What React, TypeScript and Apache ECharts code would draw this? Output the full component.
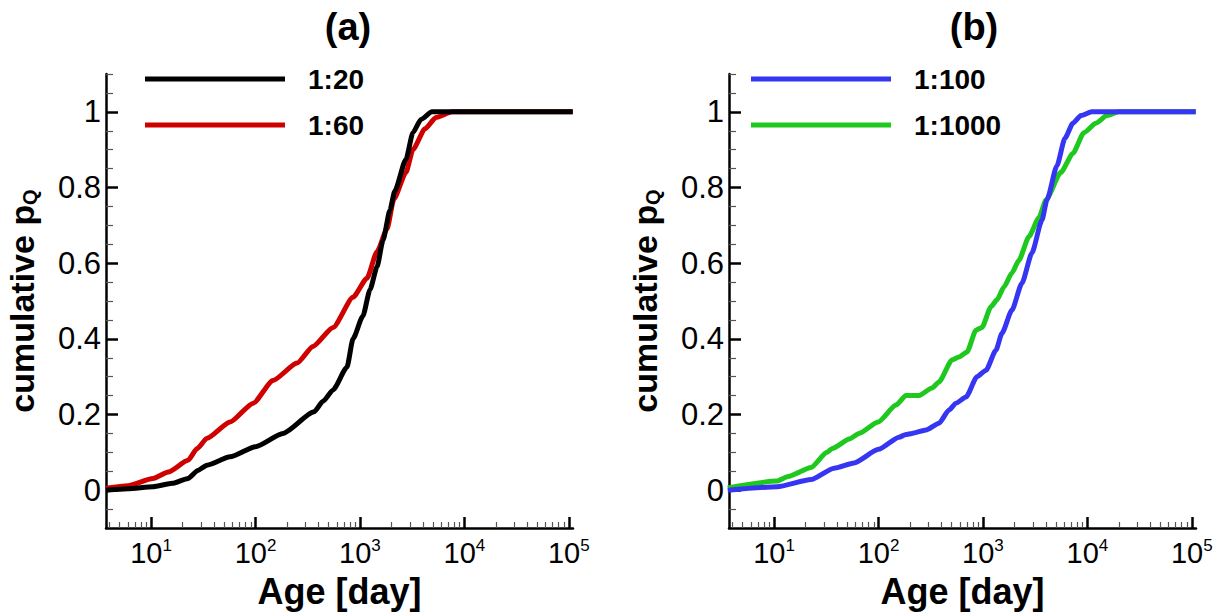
import React, { useEffect, useRef } from "react";
import * as echarts from "echarts";

// ---- data (ages in days, cumulative p_Q) ----
const ages20 = [3.7, 6, 10.4, 16, 22.6, 28, 34.3, 57, 100, 183, 363, 443, 553, 751, 858, 1066, 1247, 1456, 1661, 1935, 2150, 2760, 3213, 3837, 4890, 109000];
const p20 = [0.0, 0.004, 0.009, 0.018, 0.031, 0.052, 0.066, 0.088, 0.115, 0.15, 0.207, 0.235, 0.265, 0.325, 0.4, 0.46, 0.53, 0.59, 0.66, 0.74, 0.79, 0.875, 0.945, 0.98, 1.0, 1.0];

const ages60 = [3.7, 6, 10.4, 14.6, 22.6, 27.6, 34.3, 57, 95, 147, 250, 355, 553, 858, 1167, 1456, 1813, 2115, 2760, 3213, 4190, 5335, 7590, 109000];
const p60 = [0.005, 0.012, 0.031, 0.048, 0.079, 0.11, 0.137, 0.18, 0.23, 0.29, 0.336, 0.38, 0.43, 0.51, 0.56, 0.63, 0.69, 0.77, 0.84, 0.9, 0.955, 0.985, 1.0, 1.0];

const ages100 = [3.6, 10.7, 22.6, 37.5, 58.3, 100, 157, 183, 209, 285, 379, 473, 552, 687, 877, 1069, 1332, 1521, 1895, 2360, 2943, 3673, 4096, 5100, 6090, 7260, 8660, 11000, 109000];
const p100 = [0.0, 0.009, 0.028, 0.058, 0.072, 0.108, 0.14, 0.147, 0.15, 0.159, 0.177, 0.212, 0.23, 0.246, 0.3, 0.317, 0.37, 0.415, 0.476, 0.547, 0.627, 0.714, 0.767, 0.857, 0.93, 0.97, 0.99, 1.0, 1.0];

const ages1000 = [3.6, 10.7, 13.6, 22.6, 32.1, 36, 53.3, 65, 99, 147, 183, 244, 325, 379, 505, 589, 703, 857, 977, 1194, 1361, 1587, 1895, 2210, 2754, 3434, 4010, 5570, 7260, 9260, 12060, 15370, 19960, 109000];
const p1000 = [0.006, 0.024, 0.036, 0.06, 0.1, 0.11, 0.136, 0.15, 0.18, 0.225, 0.25, 0.25, 0.27, 0.286, 0.344, 0.352, 0.365, 0.423, 0.43, 0.485, 0.503, 0.537, 0.574, 0.608, 0.67, 0.72, 0.767, 0.84, 0.89, 0.945, 0.97, 0.99, 1.0, 1.0];

const panelTitles = ["(a)", "(b)"];
const namesA = ["1:20", "1:60"];
const namesB = ["1:100", "1:1000"];
const xMajorExponents = [1, 2, 3, 4, 5];
const yMajorTicks = [0, 0.2, 0.4, 0.6, 0.8, 1];
const X_MIN_AGE = 3.7;
const X_MAX_AGE = 109600;
const Y_MIN = -0.1;
const Y_MAX = 1.1;

const BLACK = "#000000";
const RED = "#cf0000";
const BLUE = "#3535f2";
const GREEN = "#1ec81e";
const FONT = "'Liberation Sans', Arial, Helvetica, sans-serif";

const toPts = (ages: number[], ps: number[]) => ages.map((a, i) => [Math.log10(a), ps[i]]);

export default function App() {
  const ref = useRef<HTMLDivElement>(null);
  useEffect(() => {
    document.body.style.margin = "0";
    const chart = echarts.init(ref.current!, undefined, { renderer: "svg" });
    const xmin = Math.log10(X_MIN_AGE);
    const xmax = Math.log10(X_MAX_AGE);
    const xMinor: number[] = [];
    for (let e = 0; e <= 4; e++) {
      for (let m = 2; m <= 9; m++) {
        const v = Math.log10(m * Math.pow(10, e));
        if (v >= xmin && v <= xmax) xMinor.push(v);
      }
    }
    const yMinor: number[] = [];
    for (let k = -1; k <= 22; k++) {
      const v = Math.round(k * 5) / 100;
      if (k % 4 === 0 && v >= 0 && v <= 1) continue;
      yMinor.push(v);
    }
    const grids = [
      { left: 106, top: 74, width: 467, height: 454, outerBoundsMode: "none", containLabel: false },
      { left: 729, top: 74, width: 467, height: 454, outerBoundsMode: "none", containLabel: false },
    ];
    const xAxes: any[] = [];
    const yAxes: any[] = [];
    const tickAxisX = (gi: number, values: number[], len: number, width: number, color: string) => ({
      type: "value", gridIndex: gi, min: xmin, max: xmax, position: "bottom",
      axisLine: { show: false, onZero: false },
      axisTick: { show: true, inside: true, length: len, customValues: values, lineStyle: { color, width } },
      axisLabel: { show: false }, splitLine: { show: false },
    });
    const tickAxisY = (gi: number, values: number[], len: number, width: number, color: string) => ({
      type: "value", gridIndex: gi, min: Y_MIN, max: Y_MAX, position: "left",
      axisLine: { show: false, onZero: false },
      axisTick: { show: true, inside: true, length: len, customValues: values, lineStyle: { color, width } },
      axisLabel: { show: false }, splitLine: { show: false },
    });
    grids.forEach((_, gi) => {
      xAxes.push({
        type: "value", gridIndex: gi, min: xmin, max: xmax, position: "bottom",
        axisLine: { show: true, onZero: false, lineStyle: { color: BLACK, width: 2.5 } },
        axisTick: { show: false },
        axisLabel: {
          customValues: xMajorExponents, margin: 9, color: BLACK, fontSize: 29, fontFamily: FONT, lineHeight: 32,
          formatter: (v: number) => "10{sup|" + Math.round(v) + "}",
          rich: { sup: { fontSize: 17, fontFamily: FONT, color: BLACK, verticalAlign: "top", lineHeight: 17 } },
        },
        splitLine: { show: false },
        name: "Age [day]", nameLocation: "middle", nameGap: 40,
        nameTextStyle: { fontSize: 36, fontWeight: "bold", color: BLACK, fontFamily: FONT },
      });
      xAxes.push(tickAxisX(gi, xMajorExponents, 11, 2.5, BLACK));
      xAxes.push(tickAxisX(gi, xMinor, 6, 1.2, "#555"));
      yAxes.push({
        type: "value", gridIndex: gi, min: Y_MIN, max: Y_MAX, position: "left",
        axisLine: { show: true, onZero: false, lineStyle: { color: BLACK, width: 2.5 } },
        axisTick: { show: false },
        axisLabel: {
          customValues: yMajorTicks, margin: 5, color: BLACK, fontSize: 31, fontFamily: FONT,
          formatter: (v: number) => String(Math.round(v * 10) / 10),
        },
        splitLine: { show: false },
        name: "cumulative p{sub|Q}", nameLocation: "middle", nameGap: 66,
        nameTextStyle: {
          fontSize: 34, fontWeight: "bold", color: BLACK, fontFamily: FONT, lineHeight: 36,
          rich: { sub: { fontSize: 20, fontWeight: "bold", fontFamily: FONT, color: BLACK, verticalAlign: "bottom", lineHeight: 20 } },
        },
      });
      yAxes.push(tickAxisY(gi, yMajorTicks, 12, 2.5, BLACK));
      yAxes.push(tickAxisY(gi, yMinor, 7, 1.2, "#555"));
    });
    const mk = (name: string, color: string, ages: number[], ps: number[], gi: number) => ({
      type: "line", name, xAxisIndex: gi * 3, yAxisIndex: gi * 3, data: toPts(ages, ps),
      showSymbol: false, symbol: "none", smooth: 0.2, smoothMonotone: "x",
      lineStyle: { color, width: 5 }, itemStyle: { color }, clip: true,
    });
    const legendBase = {
      orient: "vertical", top: 63, padding: 0, itemWidth: 140, itemHeight: 5, itemGap: 14, icon: "rect", selectedMode: false,
      textStyle: { fontSize: 28, fontWeight: "bold", color: BLACK, fontFamily: FONT, lineHeight: 32, padding: [0, 0, 0, 18] },
    };
    chart.setOption({
      animation: false,
      backgroundColor: "#ffffff",
      title: [
        { text: panelTitles[0], left: 348, top: 8, padding: 0, textAlign: "center", textStyle: { fontSize: 38, fontWeight: "bold", color: BLACK, fontFamily: FONT } },
        { text: panelTitles[1], left: 974, top: 8, padding: 0, textAlign: "center", textStyle: { fontSize: 38, fontWeight: "bold", color: BLACK, fontFamily: FONT } },
      ],
      legend: [
        { ...legendBase, left: 145, data: namesA },
        { ...legendBase, left: 751, data: namesB },
      ],
      grid: grids,
      xAxis: xAxes,
      yAxis: yAxes,
      series: [
        mk(namesA[1], RED, ages60, p60, 0),
        mk(namesA[0], BLACK, ages20, p20, 0),
        mk(namesB[1], GREEN, ages1000, p1000, 1),
        mk(namesB[0], BLUE, ages100, p100, 1),
      ],
    });
    return () => chart.dispose();
  }, []);
  return <div ref={ref} style={{ position: "absolute", left: 0, top: 0, width: 1223, height: 615 }} />;
}
